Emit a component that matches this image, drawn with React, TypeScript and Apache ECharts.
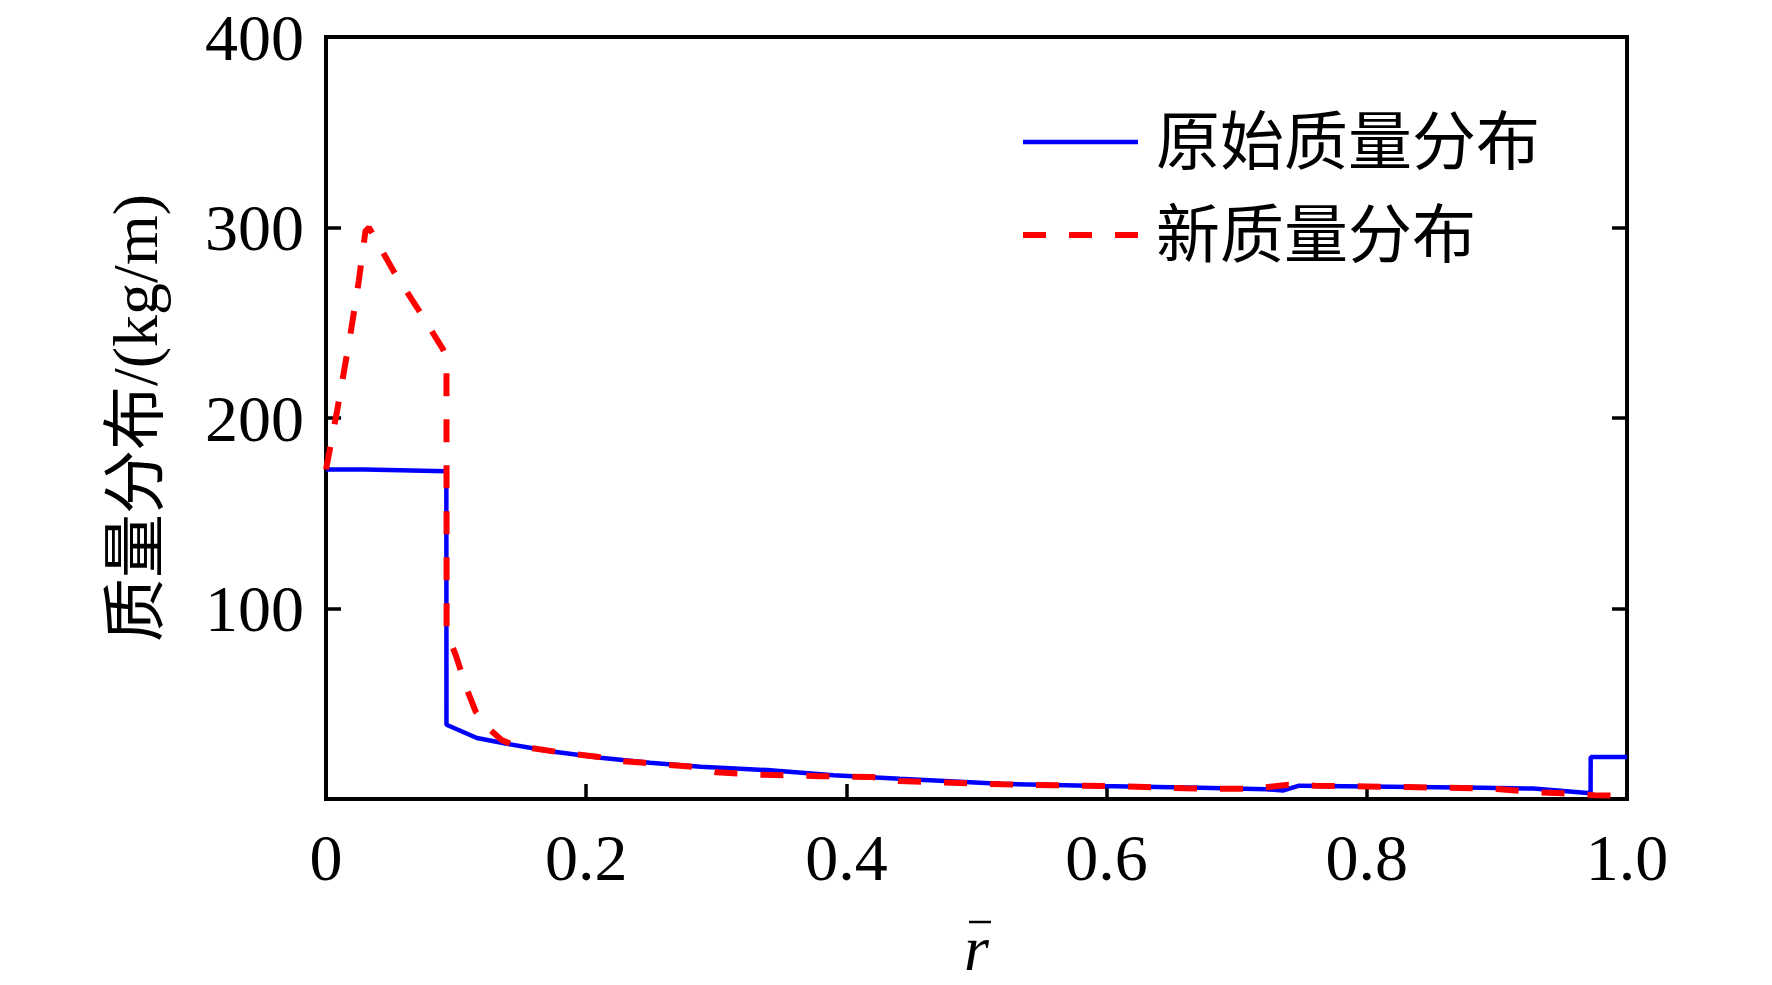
import React, { useEffect, useRef } from "react";
import * as echarts from "echarts";

const seriesNames = ["原始质量分布", "新质量分布"];
const xAxisTitle = "r";
const yAxisTitle = "质量分布/(kg/m)";

// Original mass distribution (blue, solid)
const originalR = [0, 0.03, 0.0925, 0.0926, 0.116, 0.139, 0.1725, 0.211, 0.249, 0.288, 0.339, 0.39, 0.441, 0.518, 0.595, 0.672, 0.723, 0.736, 0.748, 0.8, 0.889, 0.928, 0.972, 0.9721, 1.0];
const originalM = [173, 173, 172, 39, 32, 29, 25.1, 21.6, 19, 16.9, 15.2, 12.5, 10.6, 8, 6.8, 5.9, 5.1, 4.5, 7.0, 6.6, 5.9, 5.5, 3.0, 22, 22];

// New mass distribution (red, dashed)
const newR = [0, 0.0086, 0.0188, 0.0252, 0.0303, 0.033, 0.052, 0.07, 0.09, 0.0926, 0.0927, 0.1, 0.108, 0.115, 0.125, 0.135, 0.145, 0.16, 0.175, 0.21, 0.225, 0.245, 0.262, 0.28, 0.3, 0.33, 0.38, 0.42, 0.44, 0.47, 0.52, 0.56, 0.6, 0.63, 0.66, 0.71, 0.74, 0.76, 0.8, 0.83, 0.86, 0.9, 0.93, 0.95, 0.975, 1.0];
const newM = [173, 204, 244, 272, 298, 300, 277, 258, 236, 232, 88, 75, 58, 46, 37, 31, 28, 26.5, 25, 22, 20, 19, 18, 17, 14, 12.8, 12, 11.5, 9.5, 8.7, 7.7, 7.2, 6.8, 6.3, 5.6, 5.3, 7.5, 7.0, 6.6, 6.3, 5.9, 5.3, 3.5, 3.0, 2.0, 1.8];

const X_MIN = 0, X_MAX = 1, X_STEP = 0.2;
const Y_MIN = 0, Y_MAX = 400, Y_STEP = 100;

const FONT = "'Liberation Serif', 'Times New Roman', 'Noto Sans CJK SC', serif";
const BLUE = "#0000ff";
const RED = "#ff0000";
const BLUE_W = 4.5;
const RED_W = 6;
const RED_DASH = [23, 23];

export default function App() {
  const ref = useRef<HTMLDivElement>(null);

  useEffect(() => {
    if (!ref.current) return;
    const chart = echarts.init(ref.current, undefined, { renderer: "svg" });
    const blue = originalR.map((r, i) => [r, originalM[i]]);
    const red = newR.map((r, i) => [r, newM[i]]);

    const tickStyle = { show: true, inside: true, length: 15, lineStyle: { color: "#000", width: 3.5 } };

    chart.setOption({
      animation: false,
      backgroundColor: "#fff",
      grid: {
        left: 326,
        right: 145,
        top: 37,
        bottom: 182,
        containLabel: false,
        show: true,
        borderColor: "#000",
        borderWidth: 4,
        backgroundColor: "transparent",
      },
      legend: {
        orient: "vertical",
        left: 1015,
        top: 105,
        itemWidth: 115,
        itemHeight: 20,
        itemGap: 29,
        selectedMode: false,
        data: [
          {
            name: seriesNames[0],
            itemStyle: { color: "transparent", borderWidth: 0, opacity: 0 },
            lineStyle: { color: BLUE, width: BLUE_W, type: "solid" },
          },
          {
            name: seriesNames[1],
            itemStyle: { color: "transparent", borderWidth: 0, opacity: 0 },
            lineStyle: { color: RED, width: RED_W, type: RED_DASH },
          },
        ],
        textStyle: {
          fontFamily: FONT,
          fontSize: 64,
          lineHeight: 64,
          color: "#000",
          padding: [0, 0, 0, 13],
        },
      },
      xAxis: {
        type: "value",
        min: X_MIN,
        max: X_MAX,
        interval: X_STEP,
        name: xAxisTitle,
        nameLocation: "middle",
        nameGap: 117,
        nameTextStyle: { fontFamily: FONT, fontSize: 64, fontStyle: "italic", color: "#000", lineHeight: 64 },
        axisLine: { show: false },
        axisTick: tickStyle,
        splitLine: { show: false },
        axisLabel: {
          fontFamily: FONT,
          fontSize: 66,
          color: "#000",
          margin: 25,
          formatter: (v: number) => (v === 0 ? "0" : v.toFixed(1)),
        },
      },
      yAxis: [
        {
          type: "value",
          min: Y_MIN,
          max: Y_MAX,
          interval: Y_STEP,
          name: yAxisTitle,
          nameLocation: "middle",
          nameGap: 159,
          nameTextStyle: { fontFamily: FONT, fontSize: 64, color: "#000", lineHeight: 64 },
          axisLine: { show: false },
          axisTick: tickStyle,
          splitLine: { show: false },
          axisLabel: {
            fontFamily: FONT,
            fontSize: 66,
            color: "#000",
            margin: 22,
            showMinLabel: false,
          },
        },
        {
          type: "value",
          position: "right",
          min: Y_MIN,
          max: Y_MAX,
          interval: Y_STEP,
          axisLine: { show: false },
          axisTick: tickStyle,
          splitLine: { show: false },
          axisLabel: { show: false },
        },
      ],
      graphic: [
        {
          type: "line",
          shape: { x1: 969, y1: 922, x2: 991, y2: 922 },
          style: { stroke: "#000", lineWidth: 2.5 },
          silent: true,
        },
      ],
      series: [
        {
          name: seriesNames[0],
          type: "line",
          data: blue,
          showSymbol: false,
          symbol: "none",
          lineStyle: { color: BLUE, width: BLUE_W },
          itemStyle: { color: BLUE },
          z: 2,
        },
        {
          name: seriesNames[1],
          type: "line",
          data: red,
          showSymbol: false,
          symbol: "none",
          lineStyle: { color: RED, width: RED_W, type: RED_DASH },
          itemStyle: { color: RED },
          z: 3,
        },
      ],
    });
    return () => chart.dispose();
  }, []);

  return (
    <div
      ref={ref}
      style={{ position: "fixed", left: 0, top: 0, width: 1772, height: 985, background: "#fff" }}
    />
  );
}
